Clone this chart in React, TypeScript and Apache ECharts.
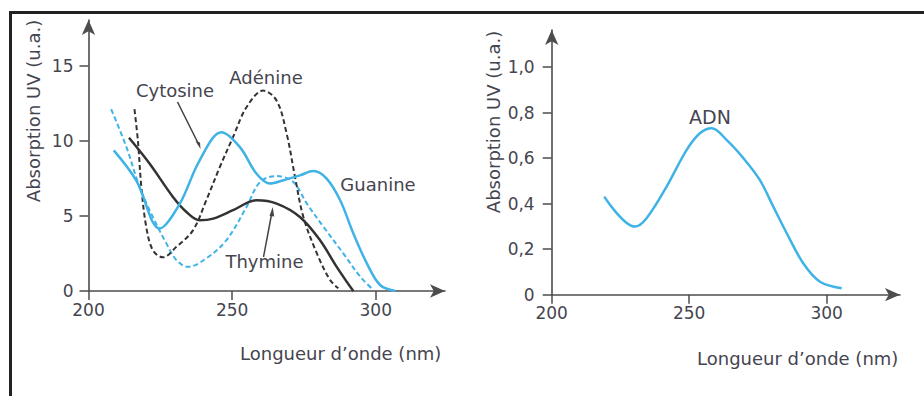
import React, { useEffect, useRef } from "react";
import * as echarts from "echarts";

// Left panel: UV absorption of the bases (wavelength nm, absorption u.a.)
const guanine: [number, number][] = [
  [208.8, 9.36], [216.6, 7.37], [224.8, 4.16], [231.8, 5.82], [238.7, 8.7], [246.3, 10.57],
  [252.7, 9.58], [258.5, 7.81], [263.2, 7.15], [267.8, 7.37], [273.6, 7.7], [278.3, 7.98],
  [282.9, 7.48], [287.6, 6.04], [292.2, 3.83], [296.9, 1.84], [301.5, 0.4], [306.8, 0],
];
const thymine: [number, number][] = [
  [214.1, 10.2], [221.3, 8.47], [229.4, 6.26], [234.1, 5.26], [238.7, 4.71], [243.4, 4.82],
  [250.3, 5.38], [258.5, 6.04], [265.5, 5.82], [273.6, 4.93], [280.6, 3.38], [286.4, 1.61],
  [292.2, 0],
];
const adenine: [number, number][] = [
  [216.0, 12.1], [217.2, 10.0], [218.4, 6.92], [220.1, 4.27], [222.4, 2.72], [225.9, 2.24],
  [230.6, 2.94], [236.4, 4.05], [241.0, 6.04], [245.7, 8.25], [250.3, 10.24], [255.0, 12.23],
  [260.8, 13.34], [265.5, 12.67], [269.0, 10.46], [271.9, 7.58], [274.8, 4.93], [279.5, 2.5],
  [284.1, 0.73], [287.0, 0.18],
];
const cytosine: [number, number][] = [
  [207.9, 12.1], [213.2, 9.58], [217.8, 6.92], [222.4, 4.93], [227.1, 3.17], [230.6, 2.06],
  [234.6, 1.61], [241.0, 2.17], [248.0, 3.38], [255.0, 5.59], [259.7, 7.25], [265.5, 7.65],
  [271.3, 7.25], [276.0, 5.82], [281.8, 4.27], [288.7, 2.5], [294.6, 0.95], [298.6, 0.18],
];
// Right panel: DNA
const adn: [number, number][] = [
  [219.1, 0.431], [230.3, 0.299], [234.5, 0.336], [241.8, 0.475], [249.1, 0.636], [253.9, 0.709],
  [258.2, 0.731], [263.6, 0.68], [269.7, 0.6], [275.7, 0.504], [280.6, 0.387], [285.5, 0.27],
  [291.5, 0.138], [297.6, 0.057], [305.5, 0.028],
];

const xTicks = [200, 250, 300];
const yTicksLeft = [0, 5, 10, 15];
const yTicksRight = [0, 0.2, 0.4, 0.6, 0.8, 1.0];

const yName = "Absorption UV (u.a.)";
const xName = "Longueur d\u2019onde (nm)";

const BLUE = "#3fb3e6";
const DARK = "#333333";
const TXT = "#45454f";
const AX = "#4d4d4d";
const FONT = "DejaVu Sans";

export default function App() {
  const ref = useRef<HTMLDivElement>(null);
  useEffect(() => {
    if (!ref.current) return;
    const chart = echarts.init(ref.current, undefined, { renderer: "svg" });
    const axisCommon = (idx: number) => ({
      gridIndex: idx,
      type: "value" as const,
      splitLine: { show: false },
      axisLine: { show: true, symbol: ["none", "arrow"], symbolSize: [10, 15], lineStyle: { color: AX, width: 1.6 } },
      axisTick: { show: true, inside: false, length: 9, lineStyle: { color: AX, width: 1.5 } },
    });
    const xAxis = (idx: number, max: number) => ({
      ...axisCommon(idx),
      min: 200,
      max,
      axisTick: { ...axisCommon(idx).axisTick, customValues: xTicks },
      axisLabel: { customValues: xTicks, margin: 10, fontSize: 17, fontFamily: FONT, color: TXT },
    });
    const yAxis = (idx: number, max: number, ticks: number[], margin: number, fmt: (v: number) => string) => ({
      ...axisCommon(idx),
      min: 0,
      max,
      axisTick: { ...axisCommon(idx).axisTick, customValues: ticks },
      axisLabel: { customValues: ticks, margin, fontSize: 17, fontFamily: FONT, color: TXT, formatter: fmt },
    });
    const line = (data: [number, number][], color: string, dashed: boolean, idx: number, name: string) => ({
      type: "line",
      name,
      xAxisIndex: idx,
      yAxisIndex: idx,
      data,
      smooth: 0.35,
      showSymbol: false,
      symbol: "none",
      lineStyle: { color, width: dashed ? 2 : 2.5, type: dashed ? [5, 3] : "solid" },
    });
    const label = (text: string, x: number, y: number, extra: any = {}) => ({
      type: "text",
      x,
      y,
      style: { text, fontSize: 18, fontFamily: FONT, fill: TXT, align: "center", verticalAlign: "middle", ...extra },
    });
    chart.setOption({
      animation: false,
      grid: [
        { left: 88.5, top: 20, width: 356.5, height: 271 },
        { left: 551.7, top: 30, width: 348.3, height: 264.7 },
      ],
      xAxis: [xAxis(0, 324.1), xAxis(1, 326.7)],
      yAxis: [
        yAxis(0, 18.04, yTicksLeft, 15, (v: number) => String(v)),
        yAxis(1, 1.1625, yTicksRight, 17, (v: number) => (v === 0 ? "0" : v.toFixed(1).replace(".", ","))),
      ],
      series: [
        line(cytosine, BLUE, true, 0, "Cytosine"),
        line(adenine, DARK, true, 0, "Adénine"),
        line(thymine, DARK, false, 0, "Thymine"),
        line(guanine, BLUE, false, 0, "Guanine"),
        line(adn, BLUE, false, 1, "ADN"),
      ],
      graphic: [
        { type: "rect", shape: { x: 10.5, y: 12.5, width: 1000, height: 500 }, style: { fill: "none", stroke: "#222", lineWidth: 3 } },
        label(yName, 33, 111, {}),
        label(xName, 240, 353, { align: "left" }),
        label(yName, 493, 122, {}),
        label(xName, 697, 358, { align: "left" }),
        label("Cytosine", 175, 90),
        label("Adénine", 266, 77),
        label("Guanine", 378, 184),
        label("Thymine", 264.5, 261),
        label("ADN", 710, 117, { fontSize: 19 }),
        { type: "line", shape: { x1: 177.5, y1: 102, x2: 199, y2: 145 }, style: { stroke: "#444", lineWidth: 1.5 } },
        { type: "polygon", shape: { points: [[200.5, 149], [195.5, 141], [200, 142.5]] }, style: { fill: "#444" } },
        { type: "line", shape: { x1: 263.5, y1: 257, x2: 271.8, y2: 213 }, style: { stroke: "#444", lineWidth: 1.5 } },
        { type: "polygon", shape: { points: [[272.7, 207], [269.5, 216], [274.2, 216.5]] }, style: { fill: "#444" } },
      ].map((g: any) =>
        g.type === "text" && g.style.text === yName ? { ...g, rotation: Math.PI / 2 } : g
      ),
    });
    return () => chart.dispose();
  }, []);
  return <div ref={ref} style={{ position: "fixed", left: 0, top: 0, width: 924, height: 396, background: "#fff" }} />;
}
